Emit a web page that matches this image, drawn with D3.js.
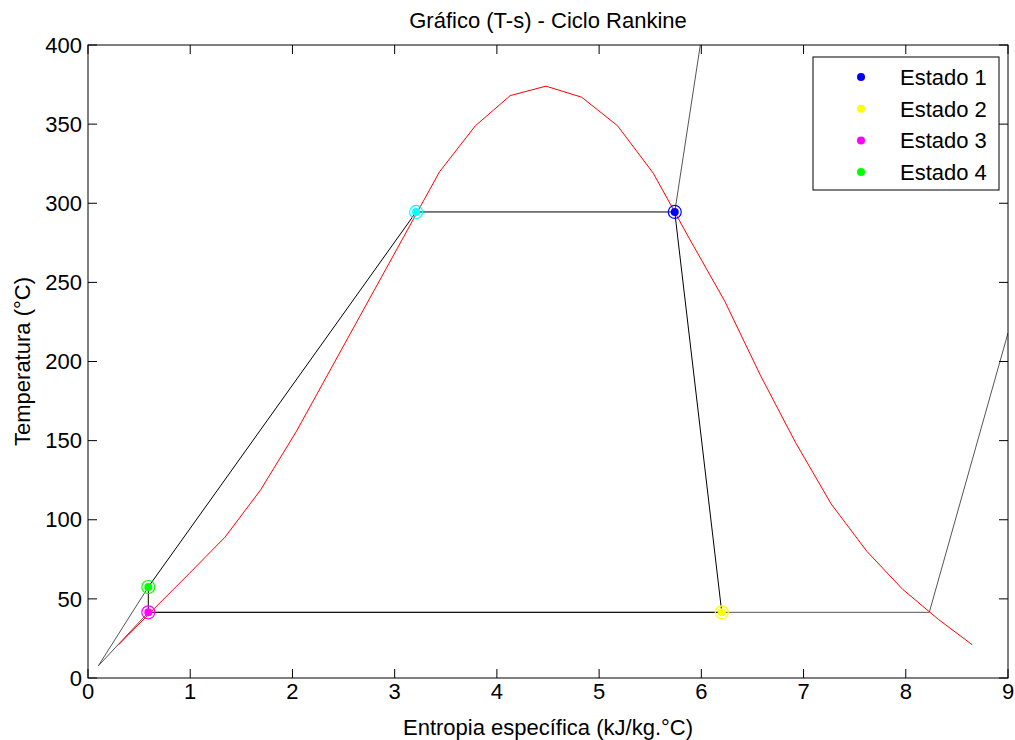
<!DOCTYPE html>
<html>
<head>
<meta charset="utf-8">
<script src="https://cdn.jsdelivr.net/npm/d3@7"></script>
<style>
  html, body { margin: 0; padding: 0; background: #fff; }
  svg { display: block; font-family: "Liberation Sans", Arial, Helvetica, sans-serif; }
</style>
</head>
<body>
<svg id="chart" width="1015" height="740"></svg>
<script>
// ---- Data ----
const xTicks = [0,1,2,3,4,5,6,7,8,9];
const yTicks = [0,50,100,150,200,250,300,350,400];

// saturation dome (red)
const sDome = [0.30,0.65,0.99,1.34,1.69,2.04,2.39,2.74,3.09,3.44,3.79,4.13,4.48,4.83,5.18,5.53,5.88,6.23,6.58,6.92,7.27,7.62,7.97,8.32,8.65];
const tDome = [21,44,66,89,119,156,197,238,279,320,349,368,374,367,349,319,278,238,191,149,110,80,56,37,21];

// states
const estados = ["Estado 1","Estado 2","Estado 3","Estado 4"];
const sState = [5.74, 6.20, 0.59, 0.59];
const tState = [294.5, 41.5, 41.5, 57.5];
const stateColors = ["#0000ff","#ffff00","#ff00ff","#00ff00"];

// saturated liquid at high pressure (cyan)
const sLiq = 3.21, tLiq = 294.5;

// cycle path: 1 -> 2 -> 3 -> 4 -> sat. liquid -> 1
const sCycle = [5.74, 6.20, 0.59, 0.59, 3.21, 5.74];
const tCycle = [294.5, 41.5, 41.5, 57.5, 294.5, 294.5];

// isobars (gray)
const sIsoLow = [0.10, 0.59, 8.23, 9.00];
const tIsoLow = [7.6, 41.5, 41.5, 218];
const sIsoHighLiq = [0.10, 0.59];
const tIsoHighLiq = [7.6, 57.5];
const sIsoHighVap = [5.74, 5.99];
const tIsoHighVap = [294.5, 400];

// ---- Layout ----
const L = 88, R = 1008, T = 45, B = 678;
const FS = 22;
const svg = d3.select("#chart");
const x = d3.scaleLinear().domain([0, 9]).range([L, R]);
const y = d3.scaleLinear().domain([0, 400]).range([B, T]);

svg.append("rect").attr("width",1015).attr("height",740).attr("fill","#fff");

svg.append("defs").append("clipPath").attr("id","clip")
  .append("rect").attr("x",L).attr("y",T).attr("width",R-L).attr("height",B-T);

const plot = svg.append("g").attr("clip-path","url(#clip)");
const line = d3.line().x(d => x(d[0])).y(d => y(d[1]));
const zip = (a,b) => a.map((v,i) => [v, b[i]]);

// isobars
[[sIsoLow,tIsoLow],[sIsoHighLiq,tIsoHighLiq],[sIsoHighVap,tIsoHighVap]].forEach(([s,t]) => {
  plot.append("path").attr("d", line(zip(s,t)))
    .attr("fill","none").attr("stroke","#555").attr("stroke-width",1);
});

// dome
plot.append("path").attr("d", line(zip(sDome,tDome)))
  .attr("fill","none").attr("stroke","#ff0000").attr("stroke-width",1);

// cycle
plot.append("path").attr("d", line(zip(sCycle,tCycle)))
  .attr("fill","none").attr("stroke","#000").attr("stroke-width",1);

// markers
function marker(sv, tv, col) {
  plot.append("circle").attr("cx",x(sv)).attr("cy",y(tv)).attr("r",6.5)
    .attr("fill","none").attr("stroke",col).attr("stroke-width",1.2);
  plot.append("circle").attr("cx",x(sv)).attr("cy",y(tv)).attr("r",4)
    .attr("fill",col);
}
marker(sLiq, tLiq, "#00ffff");
estados.forEach((e,i) => marker(sState[i], tState[i], stateColors[i]));

// ---- Axes box ----
const ax = svg.append("g");
ax.append("rect").attr("x",L).attr("y",T).attr("width",R-L).attr("height",B-T)
  .attr("fill","none").attr("stroke","#000").attr("stroke-width",1);

const tickLen = 9;
xTicks.forEach(v => {
  ax.append("line").attr("x1",x(v)).attr("x2",x(v)).attr("y1",B).attr("y2",B-tickLen).attr("stroke","#000");
  ax.append("line").attr("x1",x(v)).attr("x2",x(v)).attr("y1",T).attr("y2",T+tickLen).attr("stroke","#000");
  ax.append("text").attr("x",x(v)).attr("y",B+21).attr("text-anchor","middle")
    .attr("font-size",FS).text(v);
});
yTicks.forEach(v => {
  ax.append("line").attr("x1",L).attr("x2",L+tickLen).attr("y1",y(v)).attr("y2",y(v)).attr("stroke","#000");
  ax.append("line").attr("x1",R).attr("x2",R-tickLen).attr("y1",y(v)).attr("y2",y(v)).attr("stroke","#000");
  ax.append("text").attr("x",L-6).attr("y",y(v)).attr("dy","0.35em").attr("text-anchor","end")
    .attr("font-size",FS).text(v);
});

// labels
svg.append("text").attr("x",(L+R)/2).attr("y",28).attr("text-anchor","middle")
  .attr("font-size",FS).text("Gráfico (T-s) - Ciclo Rankine");
svg.append("text").attr("x",(L+R)/2).attr("y",735).attr("text-anchor","middle")
  .attr("font-size",FS).text("Entropia específica (kJ/kg.°C)");
svg.append("text").attr("transform",`translate(30,${(T+B)/2}) rotate(-90)`).attr("text-anchor","middle")
  .attr("font-size",FS).text("Temperatura (°C)");

// legend
const lg = svg.append("g");
lg.append("rect").attr("x",813).attr("y",57).attr("width",186).attr("height",133)
  .attr("fill","#fff").attr("stroke","#000").attr("stroke-width",1);
estados.forEach((e,i) => {
  const yy = 77 + i*31.7;
  lg.append("circle").attr("cx",861).attr("cy",yy).attr("r",4).attr("fill",stateColors[i]);
  lg.append("text").attr("x",900).attr("y",yy).attr("dy","0.36em").attr("font-size",FS).text(e);
});
</script>
</body>
</html>
